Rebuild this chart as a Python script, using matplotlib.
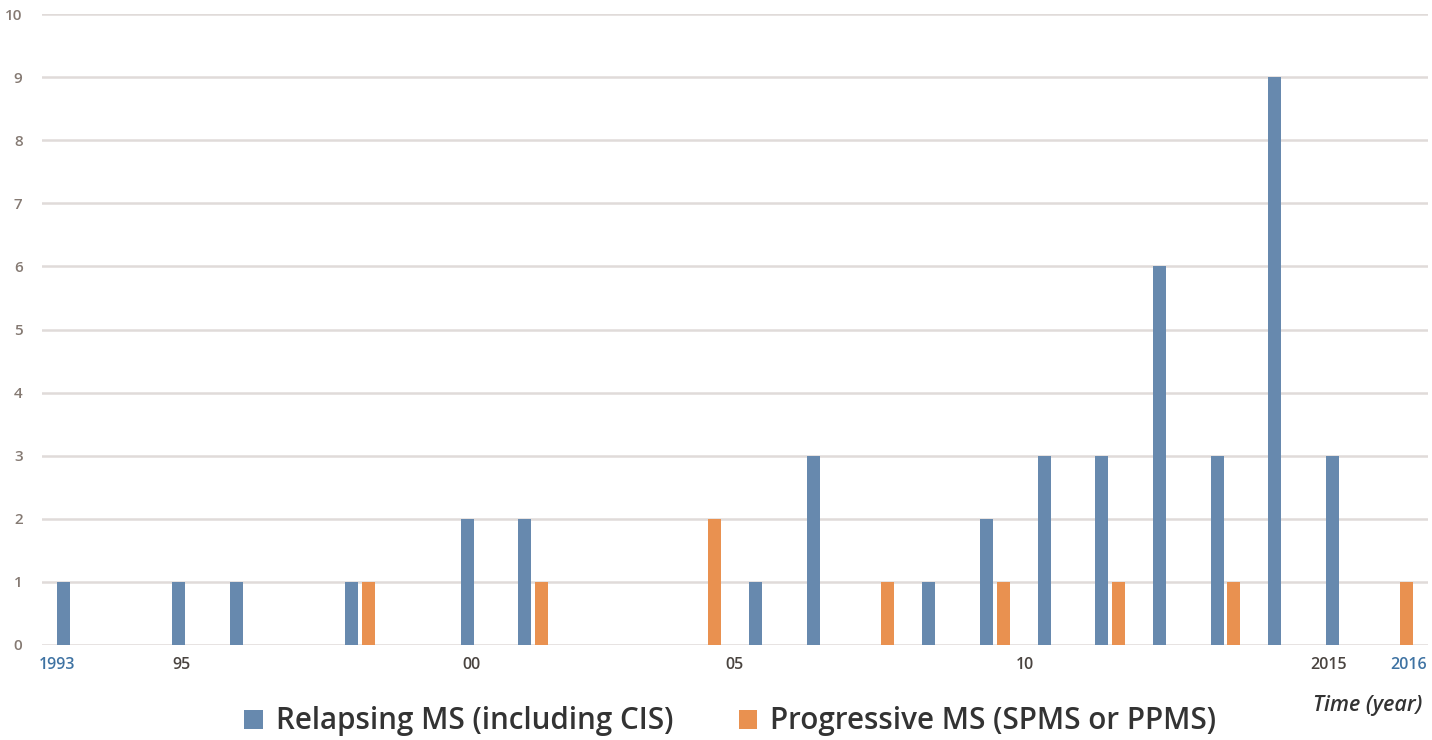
import matplotlib
matplotlib.use("Agg")
import matplotlib.pyplot as plt
import numpy as np

# Datos: casos por año
anios = list(range(1993, 2017))
recurrente = [1, 0, 1, 1, 0, 1, 0, 2, 2, 0, 0, 0, 1, 3, 0, 1, 2, 3, 3, 6, 3, 9, 3, 0]
progresiva = [0, 0, 0, 0, 0, 1, 0, 0, 1, 0, 0, 2, 0, 0, 1, 0, 1, 0, 1, 0, 1, 0, 0, 1]

etiquetas_x = ["1993", "95", "00", "05", "10", "2015", "2016"]
posiciones_x = [1992.89, 1995.05, 2000.08, 2004.64, 2009.66, 2014.93, 2016.32]
colores_x = ["#3f73a3", "#4a4440", "#4a4440", "#4a4440", "#4a4440", "#4a4440", "#3f73a3"]

serie_nombres = ["Relapsing MS (including CIS)", "Progressive MS (SPMS or PPMS)"]

AZUL = "#6789ae"
NARANJA = "#e99150"

plt.rcParams['font.family'] = ['Open Sans', 'DejaVu Sans']

fig = plt.figure(figsize=(14.32, 7.40), dpi=100)
ax = fig.add_axes([0.0293, 0.1284, 0.9677, 0.8526])

x = np.array(anios, dtype=float)
ancho = 0.225
b1 = ax.bar(x, recurrente, width=ancho, color=AZUL, zorder=3, label=serie_nombres[0])
b2 = ax.bar(x + 0.29, progresiva, width=ancho, color=NARANJA, zorder=3, label=serie_nombres[1])

ax.set_xlim(1993 - 0.37, 2016 + 0.65)
ax.set_ylim(0, 10)
ax.set_yticks(range(0, 11))
ax.yaxis.grid(True, color="#e0dbd9", linewidth=1.8, zorder=0)
ax.set_axisbelow(True)
for s in ax.spines.values():
    s.set_visible(False)

ax.tick_params(axis='y', length=0, pad=14, labelsize=11, labelcolor="#857a73")
for lbl in ax.get_yticklabels():
    lbl.set_fontweight('semibold')

ax.set_xticks(posiciones_x)
ax.set_xticklabels(etiquetas_x)
ax.tick_params(axis='x', length=0, pad=9, labelsize=11.5)
for lbl, c in zip(ax.get_xticklabels(), colores_x):
    lbl.set_color(c)
    lbl.set_fontweight('semibold')

fig.legend(handles=[b1, b2], labels=serie_nombres, loc='center',
           bbox_to_anchor=(0.51, 0.025), ncol=2, frameon=False,
           prop={'size': 21.3, 'weight': 'semibold'}, handlelength=0.62,
           handleheight=0.62, handletextpad=0.45, columnspacing=2.2,
           labelcolor="#333333")

fig.text(0.993, 0.047, "Time (year)", ha='right', va='center', fontsize=15.5,
         style='italic', fontweight='semibold', color="#333333")

fig.savefig("out.png", dpi=100)
